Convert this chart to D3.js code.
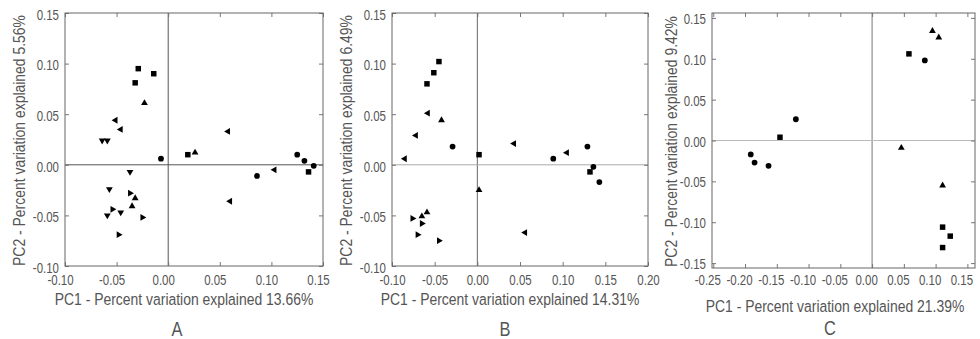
<!DOCTYPE html>
<html>
<head>
<meta charset="utf-8">
<script src="https://cdn.jsdelivr.net/npm/d3@7"></script>
<style>
  body { margin: 0; background: #fff; }
  svg { display: block; }
  text { font-family: "Liberation Sans", Arial, sans-serif; fill: #555; }
  .tick text { font-size: 14px; }
  .axis-title { font-size: 17px; }
  .panel-letter { font-size: 20px; }
</style>
</head>
<body>
<svg width="980" height="339"></svg>
<script>
// panel A: PC1 13.66%, PC2 5.56%
var aSquares = [[-0.029, 0.095], [-0.014, 0.090], [-0.032, 0.081], [0.019, 0.010], [0.136, -0.007]];
var aCircles = [[-0.007, 0.006], [0.125, 0.010], [0.132, 0.004], [0.141, -0.001], [0.086, -0.011]];
var aTriUp = [[-0.023, 0.061], [0.026, 0.012], [-0.032, -0.033], [-0.035, -0.041]];
var aTriDown = [[-0.064, 0.024], [-0.059, 0.024], [-0.037, -0.007], [-0.057, -0.024], [-0.046, -0.047], [-0.059, -0.050]];
var aTriLeft = [[-0.051, 0.044], [-0.046, 0.035], [0.058, 0.033], [0.103, -0.005], [0.060, -0.036]];
var aTriRight = [[-0.037, -0.028], [-0.054, -0.044], [-0.025, -0.052], [-0.048, -0.069]];

// panel B: PC1 14.31%, PC2 6.49%
var bSquares = [[-0.045, 0.102], [-0.051, 0.091], [-0.059, 0.080], [0.002, 0.010], [0.132, -0.007]];
var bCircles = [[-0.029, 0.018], [0.089, 0.006], [0.129, 0.018], [0.136, -0.002], [0.143, -0.017]];
var bTriUp = [[-0.042, 0.044], [0.002, -0.025], [-0.065, -0.051], [-0.059, -0.047]];
var bTriLeft = [[-0.058, 0.051], [-0.072, 0.029], [-0.085, 0.006], [0.043, 0.021], [0.105, 0.012], [0.056, -0.067]];
var bTriRight = [[-0.076, -0.053], [-0.065, -0.058], [-0.070, -0.069], [-0.045, -0.075]];

// panel C: PC1 21.39%, PC2 9.42%
var cSquares = [[0.058, 0.106], [-0.145, 0.004], [0.111, -0.106], [0.123, -0.117], [0.111, -0.131]];
var cCircles = [[0.083, 0.098], [-0.120, 0.026], [-0.191, -0.017], [-0.185, -0.027], [-0.163, -0.031]];
var cTriUp = [[0.095, 0.134], [0.105, 0.126], [0.046, -0.009], [0.111, -0.055]];

// tick values
var xTicksA = [-0.10, -0.05, 0.00, 0.05, 0.10, 0.15];
var xTicksB = [-0.10, -0.05, 0.00, 0.05, 0.10, 0.15, 0.20];
var xTicksC = [-0.25, -0.20, -0.15, -0.10, -0.05, 0.00, 0.05, 0.10, 0.15];
var yTicksAB = [-0.10, -0.05, 0.00, 0.05, 0.10, 0.15];
var yTicksC = [-0.15, -0.10, -0.05, 0.00, 0.05, 0.10, 0.15];

var svg = d3.select("svg");
var fmt = function (d) { return d.toFixed(2); };
var narrow = 0.82; // the reference uses a condensed face

var drawPanel = function (p) {
  var x = d3.scaleLinear().domain(p.xDomain).range([p.left, p.right]);
  var y = d3.scaleLinear().domain(p.yDomain).range([p.bottom, p.top]);
  var g = svg.append("g");

  // zero lines
  g.append("line")
    .attr("x1", x(0)).attr("x2", x(0))
    .attr("y1", p.top).attr("y2", p.bottom)
    .attr("stroke", p.vColor).attr("stroke-width", 1);
  g.append("line")
    .attr("x1", p.left).attr("x2", p.right)
    .attr("y1", y(0)).attr("y2", y(0))
    .attr("stroke", p.hColor).attr("stroke-width", 1);

  // axes, inward ticks on all four sides
  var bottom = g.append("g")
    .attr("transform", "translate(0," + p.bottom + ")")
    .call(d3.axisBottom(x).tickValues(p.xTicks).tickFormat(fmt)
      .tickSizeInner(-4).tickSizeOuter(0).tickPadding(p.xPad));
  bottom.selectAll("text")
    .attr("x", p.xLabelDx / narrow)
    .attr("transform", "scale(" + narrow + ",1)");

  var left = g.append("g")
    .attr("transform", "translate(" + p.left + ",0)")
    .call(d3.axisLeft(y).tickValues(p.yTicks).tickFormat(fmt)
      .tickSizeInner(-4).tickSizeOuter(0).tickPadding(6));
  left.selectAll("text")
    .attr("x", -6 / narrow)
    .attr("dy", p.yLabelDy)
    .attr("transform", "scale(" + narrow + ",1)");

  g.append("g")
    .attr("transform", "translate(0," + p.top + ")")
    .call(d3.axisTop(x).tickValues(p.xTicks).tickFormat("")
      .tickSizeInner(-4).tickSizeOuter(0));
  g.append("g")
    .attr("transform", "translate(" + p.right + ",0)")
    .call(d3.axisRight(y).tickValues(p.yTicks).tickFormat("")
      .tickSizeInner(-4).tickSizeOuter(0));

  g.selectAll(".domain").remove();
  g.selectAll(".tick line").attr("stroke", "#777");

  // frame
  g.append("rect")
    .attr("x", p.left).attr("y", p.top)
    .attr("width", p.right - p.left).attr("height", p.bottom - p.top)
    .attr("fill", "none").attr("stroke", "#666").attr("stroke-width", 1);

  // markers
  p.series.forEach(function (s) {
    g.selectAll(null)
      .data(s.data)
      .enter()
      .append("path")
      .attr("d", d3.symbol().type(s.type).size(s.size))
      .attr("transform", function (d) {
        return "translate(" + x(d[0]) + "," + y(d[1]) + ") rotate(" + s.rot + ")";
      })
      .attr("fill", "#000");
  });

  // titles
  g.append("text")
    .attr("class", "axis-title")
    .attr("transform", "translate(" + p.xTitleX + "," + p.xTitleY + ") scale(" + narrow + ",1)")
    .attr("text-anchor", "middle")
    .text(p.xTitle);
  g.append("text")
    .attr("class", "axis-title")
    .attr("transform", "translate(" + p.yTitleX + "," + ((p.top + p.bottom) / 2 + 1) + ") rotate(-90) scale(" + narrow + ",1)")
    .attr("text-anchor", "middle")
    .text(p.yTitle);
  g.append("text")
    .attr("class", "panel-letter")
    .attr("transform", "translate(" + p.letterX + "," + p.letterY + ") scale(" + narrow + ",1)")
    .attr("text-anchor", "middle")
    .text(p.letter);
};

var sq = function (data) { return { data: data, type: d3.symbolSquare, size: 30, rot: 0 }; };
var ci = function (data) { return { data: data, type: d3.symbolCircle, size: 26, rot: 0 }; };
var tri = function (data, rot) { return { data: data, type: d3.symbolTriangle, size: 20, rot: rot }; };

drawPanel({
  left: 65, right: 323, top: 13, bottom: 266,
  xDomain: [-0.10, 0.15], yDomain: [-0.10, 0.15],
  xTicks: xTicksA, yTicks: yTicksAB, xPad: 9, xLabelDx: -5, yLabelDy: "0.45em",
  vColor: "#555", hColor: "#555",
  series: [sq(aSquares), ci(aCircles), tri(aTriUp, 0), tri(aTriDown, 180), tri(aTriLeft, -90), tri(aTriRight, 90)],
  xTitle: "PC1  - Percent variation explained 13.66%", xTitleX: 184, xTitleY: 305,
  yTitle: "PC2 - Percent variation explained 5.56%", yTitleX: 25,
  letter: "A", letterX: 177, letterY: 336
});

drawPanel({
  left: 392, right: 648, top: 13, bottom: 266,
  xDomain: [-0.10, 0.20], yDomain: [-0.10, 0.15],
  xTicks: xTicksB, yTicks: yTicksAB, xPad: 9, xLabelDx: 0, yLabelDy: "0.45em",
  vColor: "#666", hColor: "#aaa",
  series: [sq(bSquares), ci(bCircles), tri(bTriUp, 0), tri(bTriLeft, -90), tri(bTriRight, 90)],
  xTitle: "PC1  - Percent variation explained 14.31%", xTitleX: 510, xTitleY: 305,
  yTitle: "PC2 - Percent variation explained 6.49%", yTitleX: 352,
  letter: "B", letterX: 505, letterY: 336
});

drawPanel({
  left: 712, right: 975, top: 13, bottom: 268,
  xDomain: [-0.252, 0.162], yDomain: [-0.156, 0.156],
  xTicks: xTicksC, yTicks: yTicksC, xPad: 7, xLabelDx: -6, yLabelDy: "0.4em",
  vColor: "#777", hColor: "#bbb",
  series: [sq(cSquares), ci(cCircles), tri(cTriUp, 0)],
  xTitle: "PC1  - Percent variation explained 21.39%", xTitleX: 835, xTitleY: 312,
  yTitle: "PC2 - Percent variation explained 9.42%", yTitleX: 677,
  letter: "C", letterX: 830, letterY: 335
});
</script>
</body>
</html>
